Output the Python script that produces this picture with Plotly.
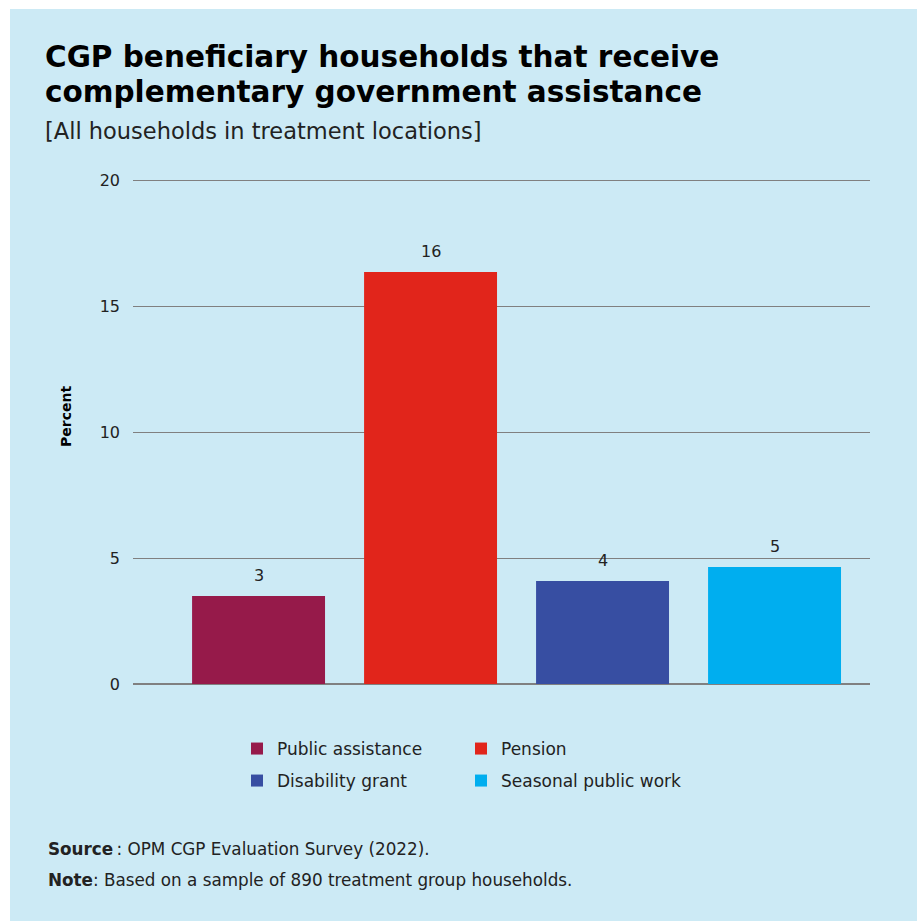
import plotly.graph_objects as go

categories = ["Public assistance", "Pension", "Disability grant", "Seasonal public work"]
values = [3.49, 16.35, 4.09, 4.64]
labels = ["3", "16", "4", "5"]
colors = ["#961A4A", "#E1251B", "#374EA2", "#00AEEF"]
legend_ids = ["legend", "legend", "legend2", "legend2"]
y_ticks = [0, 5, 10, 15, 20]

W, H = 917, 921
L, R, T, B = 133, 47, 179, 237
PH = H - T - B
PW = W - L - R
BG = "#CCEAF5"
FONT = "DejaVu Sans"
TXT = "#222222"
YMAX = 20.04

def py(px):
    return (H - B - px) / PH

def pxx(px):
    return (px - L) / PW

fig = go.Figure()
for cat, v, c, lg in zip(categories, values, colors, legend_ids):
    fig.add_trace(go.Bar(
        x=[cat], y=[v], name=cat, marker=dict(color=c, line=dict(width=0)),
        width=0.773, legend=lg,
    ))

for cat, v, lab in zip(categories, values, labels):
    fig.add_annotation(x=cat, y=v, text=lab, xref="x", yref="y", showarrow=False,
                       xanchor="center", yanchor="bottom", yshift=9,
                       font=dict(family=FONT, size=16, color=TXT))

fig.add_shape(type="rect", xref="paper", yref="paper",
              x0=pxx(10), x1=pxx(W + 5), y0=py(H + 5), y1=py(9),
              fillcolor=BG, line=dict(width=0), layer="below")

ann = [
    dict(text="<b>CGP beneficiary households that receive</b>", x=pxx(43), y=py(57), size=29.5, color="#000000"),
    dict(text="<b>complementary government assistance</b>", x=pxx(43), y=py(92), size=29.5, color="#000000"),
    dict(text="[All households in treatment locations]", x=pxx(43), y=py(131), size=22.5, color=TXT),
    dict(text="<b>Source</b>\u2009: OPM CGP Evaluation Survey (2022).", x=pxx(46), y=py(849), size=16.8, color=TXT),
    dict(text="<b>Note</b>: Based on a sample of 890 treatment group households.", x=pxx(46), y=py(880), size=16.8, color=TXT),
]
for a in ann:
    fig.add_annotation(text=a["text"], x=a["x"], y=a["y"], xref="paper", yref="paper",
                       xanchor="left", yanchor="middle", showarrow=False,
                       font=dict(family=FONT, size=a["size"], color=a["color"]))

fig.add_annotation(text="<b>Percent</b>", textangle=-90, x=pxx(66), y=py(417),
                   xref="paper", yref="paper", xanchor="center", yanchor="middle",
                   showarrow=False, font=dict(family=FONT, size=14, color="#000000"))

legend_common = dict(orientation="h", entrywidth=179, entrywidthmode="pixels",
                     bgcolor="rgba(0,0,0,0)", font=dict(family=FONT, size=17, color=TXT),
                     xanchor="left", yanchor="middle", traceorder="normal")

fig.update_layout(
    width=W, height=H,
    margin=dict(l=L, r=R, t=T, b=B, pad=0),
    paper_bgcolor="#FFFFFF", plot_bgcolor=BG,
    barmode="overlay",
    showlegend=True,
    legend=dict(x=pxx(237), y=py(749), **legend_common),
    legend2=dict(x=pxx(237), y=py(781), **legend_common),
    xaxis=dict(type="category", categoryorder="array", categoryarray=categories,
               range=[-0.73, 3.555], showticklabels=False, showgrid=False,
               zeroline=False, showline=False, ticks=""),
    yaxis=dict(range=[0, YMAX], tickvals=y_ticks, showgrid=True, gridcolor="#808080",
               gridwidth=1.3, zeroline=True, zerolinecolor="#808080", zerolinewidth=1.5,
               showline=False, ticks="", ticklabelstandoff=12,
               tickfont=dict(family=FONT, size=16, color=TXT)),
    font=dict(family=FONT, color=TXT),
)

fig.write_html("out.html", config={"displayModeBar": False},
               post_script="document.body.style.margin='0';")
